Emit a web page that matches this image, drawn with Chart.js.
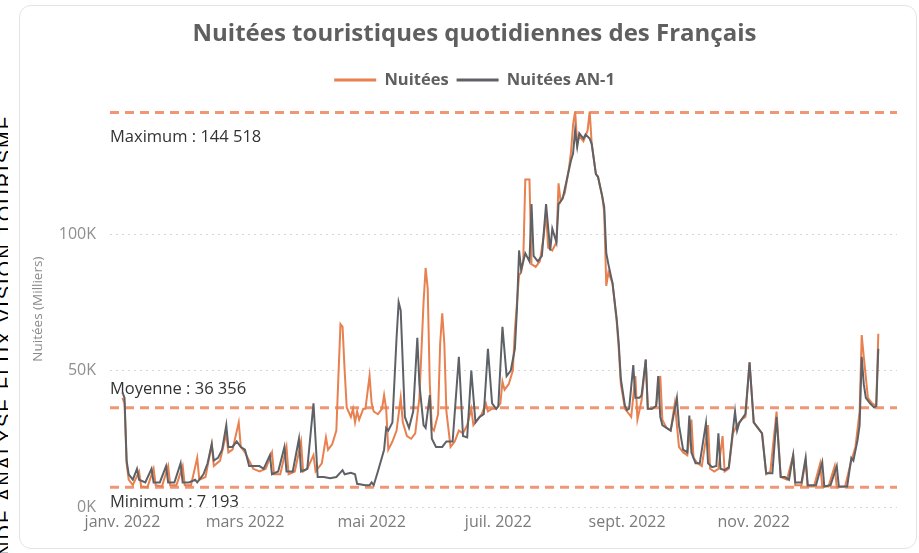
<!DOCTYPE html>
<html>
<head>
<meta charset="utf-8">
<script src="https://cdn.jsdelivr.net/npm/chart.js@4.4.1/dist/chart.umd.min.js"></script>
<style>
  body { margin: 0; background: #fff; }
  #side { position: absolute; left: 0; top: 0; width: 8px; height: 553px; overflow: hidden; }
  #side div { position: absolute; left: -6px; top: 114px; writing-mode: vertical-rl; transform: rotate(180deg);
    font: 20px "Liberation Sans", sans-serif; letter-spacing: 2px; white-space: nowrap; color: #000; }
  #card { position: absolute; left: 19px; top: 5px; width: 896px; height: 542px; border: 1px solid #e4e4e4; border-radius: 12px; }
  canvas { position: absolute; left: 0; top: 0; }
</style>
</head>
<body>
<div id="side"><div>MONDE ANALYSE FLUX VISION TOURISME</div></div>
<div id="card"></div>
<canvas id="chart" width="919" height="553"></canvas>
<script>
// valeurs en milliers, [jour de l'année 2022, nuitées]
const nuitees = [[0,40],[1,38],[2,16],[3,10],[5,8],[8,13],[9,7.5],[12,7.2],[15,14],[16,8],[19,7.5],[22,15],[23,8],[26,8],[29,15],[30,8],[33,8],[36,18],[37,10],[40,11],[43,23],[44,15],[47,17],[50,27],[51,20],[53,21],[56,31],[57,22],[59,20],[61,17],[63,14],[66,13],[69,14],[72,20],[73,12],[76,12],[79,22],[80,12],[83,13],[86,24],[87,13],[89,14],[92,19],[93,13],[96,16],[98,25.5],[99,21],[101,23],[103,28],[104,48],[105,67],[106,66],[107,50],[108,36.5],[110,33],[111,36],[112,31],[113,35],[114,32],[116,36],[117,36],[118,42],[119,48],[120,38],[121,35],[123,34],[125,36],[126,41],[127,36],[128,21],[130,24],[132,28],[134,40],[135,31],[137,26],[139,25],[141,27],[143,40],[145,75],[146,87.6],[147,80],[148,45],[149,29],[150,28],[152,34],[153,60],[154,71],[155,60],[156,35],[158,22],[160,24],[162,28],[164,27],[166,30],[168,36],[169,30],[171,32],[173,34],[175,38],[176,35],[178,36],[180,36],[182,38],[183,46],[184,43],[186,45],[188,50],[189,65],[190,75],[191,85],[192,86],[193,90],[194,120],[196,120],[197,89],[199,88],[201,90],[203,100],[204,108],[205,95],[207,94],[209,97],[210,118.6],[211,112],[213,115],[215,124],[216,130],[217,140],[218,145],[219,133],[220,136],[222,134],[224,138],[225,145],[226,133],[228,122],[229,121],[231,114],[232,108],[233,81],[234,86],[236,82],[238,68],[239,58],[240,45],[242,36],[243,35],[245,33],[247,48],[248,32],[250,39],[252,54],[253,36],[255,36],[257,37],[259,48],[260,32],[262,29],[264,28],[266,38],[268,22],[270,20],[272,19],[274,32],[275,18],[277,16],[279,15],[282,30],[283,14],[285,13],[287,14],[289,26],[290,13],[292,14],[294,27],[296,30],[298,32],[300,33],[302,53],[304,31],[306,29],[308,27],[310,12],[312,13],[315,35],[317,11],[320,10],[323,19],[324,8],[327,8],[329,17],[330,7.5],[333,7.5],[336,16],[337,7.5],[340,7.5],[343,15],[344,7.2],[348,7.5],[351,17],[353,22],[355,35],[356,63],[357,55],[359,40],[361,38],[363,37],[364,63.5]];

const nuiteesAN1 = [[0,42],[1,40],[2,17],[3,12],[5,10],[7,14],[8,10],[11,9],[14,14],[15,9],[18,9],[21,15],[22,9],[25,9],[28,16],[29,9],[32,9],[35,10],[36,9],[39,12],[41,16],[43,23],[44,17],[46,18],[48,21],[50,30],[51,22],[53,22],[55,24],[57,22],[59,21],[61,15],[64,15],[66,15],[68,14],[71,19],[72,12],[75,13],[78,22],[79,13],[82,13],[85,25],[86,13],[89,14],[92,38],[94,11],[97,11],[100,10.5],[103,11],[106,13.5],[107,12],[110,12.5],[112,12],[113,8.5],[117,8],[119,8],[120,9],[121,8],[123,13],[126,21],[127,29],[128,28],[130,31],[132,62],[133,75],[134,72],[136,33],[138,29],[140,35],[142,62],[143,45],[145,30],[146,29],[148,41],[149,25],[151,22],[154,22],[156,24],[159,24],[162,55],[164,26],[166,25.5],[168,50],[170,31],[172,33],[174,34],[176,58],[178,38],[180,36],[181,37],[183,66],[185,48],[187,50],[189,58],[190,73],[191,94],[192,87],[194,93],[196,90],[197,111],[198,92],[200,90],[202,92],[204,111],[206,94],[207,102],[209,97],[210,111],[212,113],[214,120],[216,127],[217,129.5],[218,138],[219,132],[220,137],[222,135],[223,136.5],[225,135],[226,133],[228,122],[229,121],[231,114],[232,110],[233,93],[234,89],[236,82],[238,69],[239,60],[240,47],[242,37],[243,35.5],[244,36],[246,52],[247,40],[249,40],[250,41],[252,54],[253,36],[255,36],[257,37],[258,48],[259,33],[260,30],[262,29],[264,28],[267,40],[268,30],[270,21],[272,20],[273,33.5],[274,20],[276,16],[278,16],[281,30.7],[282,16],[284,14.6],[286,15],[287,27],[288,14],[290,13.5],[292,14.6],[295,35],[296,28],[297,30.7],[299,33],[300,34],[302,53],[304,31],[306,29],[308,27],[310,12.4],[313,12.4],[315,33],[317,11],[319,11],[321,10],[323,19],[324,9],[327,9],[329,18],[330,8],[334,8],[337,16.4],[338,7.5],[341,8],[344,15],[345,7.5],[349,7.5],[351,18],[352,17],[354,24.5],[355,30],[356,55],[357,45],[358,40],[360,38],[362,36.5],[363,37],[364,58]];

const moisJours = [0, 59, 120, 181, 243, 304];
const moisLabels = ["janv. 2022", "mars 2022", "mai 2022", "juil. 2022", "sept. 2022", "nov. 2022"];
const yTicks = [0, 50, 100];

const refNoms = ["Maximum", "Moyenne", "Minimum"];
const refValeurs = [144.518, 36.356, 7.193];
const refTextes = ["144 518", "36 356", "7 193"];
const refDecalage = [25, -18, 15];

const orange = "#E8804F";
const gris = "#5E6166";

const refLines = {
  id: "refLines",
  beforeDatasetsDraw(chart) {
    const ctx = chart.ctx;
    const area = chart.chartArea;
    const y = chart.scales.y;
    ctx.save();
    refValeurs.forEach(function (v, i) {
      const py = y.getPixelForValue(v);
      ctx.strokeStyle = "#EE9676";
      ctx.lineWidth = 3;
      ctx.setLineDash([9, 6]);
      ctx.beginPath();
      ctx.moveTo(area.left, py);
      ctx.lineTo(area.right, py);
      ctx.stroke();
      ctx.setLineDash([]);
      ctx.fillStyle = "#333";
      ctx.font = "16.5px 'Open Sans'";
      ctx.textBaseline = "middle";
      ctx.textAlign = "left";
      ctx.fillText(refNoms[i] + " : " + refTextes[i], area.left, py + refDecalage[i]);
    });
    // titre de l'axe y
    ctx.translate(38, (area.top + area.bottom) / 2);
    ctx.rotate(-Math.PI / 2);
    ctx.fillStyle = "#8a8a8a";
    ctx.font = "13.5px 'Open Sans'";
    ctx.textAlign = "center";
    ctx.fillText("Nuitées (Milliers)", 0, 0);
    ctx.restore();
  }
};

// un peu plus d'espace sous la légende
const legendSpace = {
  id: "legendSpace",
  beforeInit(chart) {
    const fit = chart.legend.fit;
    chart.legend.fit = function () {
      fit.bind(chart.legend)();
      this.height += 13;
    };
  }
};

Chart.defaults.font.family = "'Open Sans', sans-serif";

const ctx = document.getElementById("chart").getContext("2d");
const chart = new Chart(ctx, {
  type: "line",
  data: {
    datasets: [
      { label: "Nuitées", data: nuitees.map(p => ({ x: p[0], y: p[1] })), borderColor: orange, backgroundColor: orange, borderWidth: 2, pointRadius: 0, order: 1 },
      { label: "Nuitées AN-1", data: nuiteesAN1.map(p => ({ x: p[0], y: p[1] })), borderColor: gris, backgroundColor: gris, borderWidth: 2, pointRadius: 0, order: 0 }
    ]
  },
  options: {
    responsive: false,
    animation: false,
    layout: { padding: { left: 52, right: 22, top: 0, bottom: 0 } },
    plugins: {
      tooltip: { enabled: false },
      title: {
        display: true,
        text: "Nuitées touristiques quotidiennes des Français",
        color: "#5f5f5f",
        font: { size: 24, weight: "bold" },
        padding: { top: 20, bottom: 15 }
      },
      legend: {
        labels: {
          usePointStyle: true,
          pointStyle: "line",
          pointStyleWidth: 42,
          color: "#5f5f5f",
          font: { size: 16.5, weight: "bold" },
          padding: 8,
          sort: (a, b) => a.datasetIndex - b.datasetIndex,
          generateLabels: function (c) {
            return Chart.defaults.plugins.legend.labels.generateLabels(c).map(function (l) {
              l.lineWidth = 3;
              return l;
            });
          }
        }
      }
    },
    scales: {
      x: {
        type: "linear",
        min: -6,
        max: 373,
        grid: { display: false, drawTicks: false },
        border: { display: false },
        afterBuildTicks: s => { s.ticks = moisJours.map(v => ({ value: v })); },
        afterFit: s => { s.height = 46; },
        ticks: {
          autoSkip: false,
          maxRotation: 0,
          color: "#7a7a7a",
          font: { size: 16 },
          padding: 6,
          callback: v => moisLabels[moisJours.indexOf(v)]
        }
      },
      y: {
        min: 0,
        max: 145,
        grid: { color: "#d6d6d6", drawTicks: false, lineWidth: 1 },
        border: { display: false, dash: [2, 4] },
        afterBuildTicks: s => { s.ticks = yTicks.map(v => ({ value: v })); },
        afterFit: s => { s.width = 58; },
        ticks: {
          color: "#8f8f8f",
          font: { size: 16 },
          padding: 14,
          callback: v => v + "K"
        }
      }
    }
  },
  plugins: [refLines, legendSpace]
});
</script>
</body>
</html>
